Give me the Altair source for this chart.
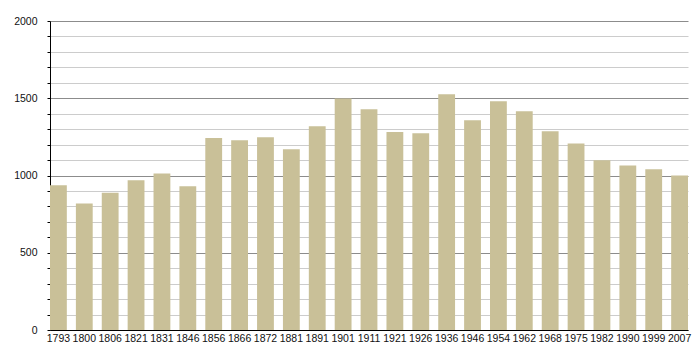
import altair as alt
import pandas as pd

years = ["1793", "1800", "1806", "1821", "1831", "1846", "1856", "1866", "1872", "1881",
         "1891", "1901", "1911", "1921", "1926", "1936", "1946", "1954", "1962", "1968",
         "1975", "1982", "1990", "1999", "2007"]
population = [937, 819, 888, 970, 1013, 931, 1243, 1228, 1248, 1170,
              1319, 1498, 1429, 1282, 1274, 1526, 1358, 1480, 1416, 1286,
              1207, 1099, 1065, 1041, 1000]
y_ticks = list(range(0, 2001, 100))

df = pd.DataFrame({"year": years, "pop": population})

chart = alt.Chart(df).mark_bar(color="#c9c098").encode(
    x=alt.X("year:N", sort=years, title=None,
            scale=alt.Scale(paddingInner=0.35, paddingOuter=0),
            axis=alt.Axis(labelAngle=0, ticks=False, domainColor="#000",
                          labelFont="Liberation Sans", labelFontSize=10.5,
                          labelColor="#111", labelPadding=3)),
    y=alt.Y("pop:Q", title=None,
            scale=alt.Scale(domain=[0, 2000], nice=False),
            axis=alt.Axis(values=y_ticks, domainColor="#000", tickColor="#000",
                          tickSize=3,
                          labelExpr="datum.value % 500 == 0 ? datum.label : ''",
                          format="d",
                          labelFont="Liberation Sans", labelFontSize=10.5,
                          labelColor="#111", labelPadding=10,
                          grid=True,
                          gridColor=alt.condition("datum.value % 500 == 0",
                                                  alt.value("#8c8c8c"),
                                                  alt.value("#cccccc")))),
).properties(
    width=638, height=309,
    autosize=alt.AutoSizeParams(type="none"),
    padding={"left": 42, "top": 13, "right": 4, "bottom": 20},
).configure_view(stroke=None)

chart.save("out.html", embed_options={"renderer": "svg", "actions": False})
